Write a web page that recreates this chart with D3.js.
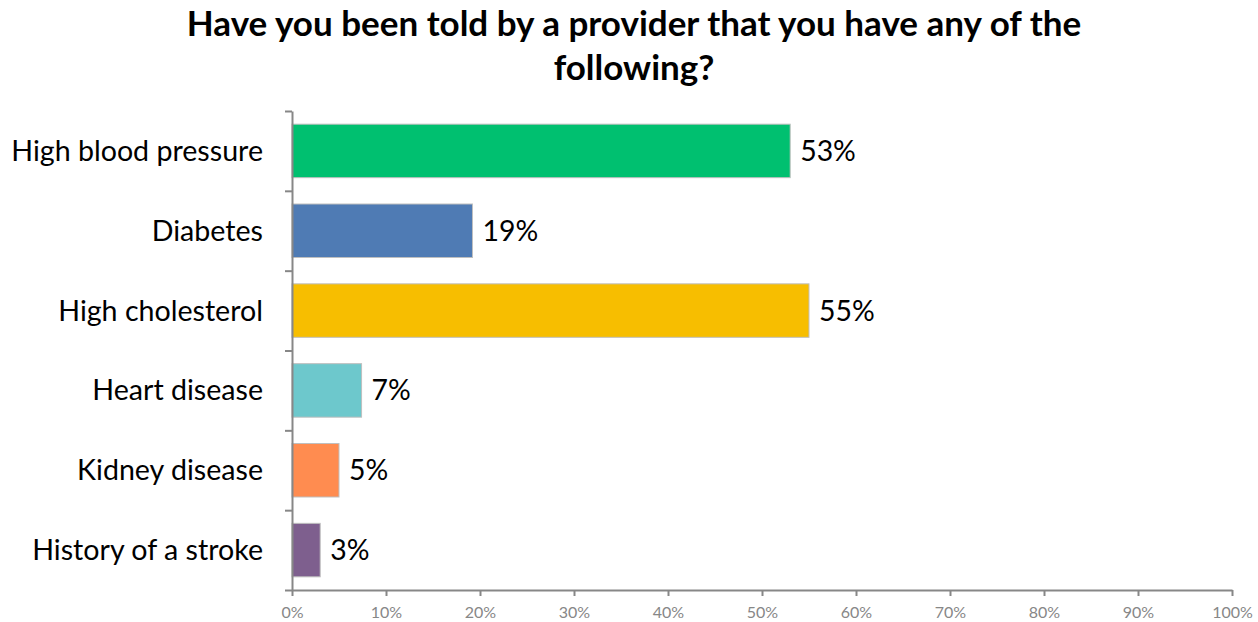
<!DOCTYPE html>
<html><head><meta charset="utf-8">
<script src="https://cdn.jsdelivr.net/npm/d3@7"></script>
<style>body{margin:0;background:#fff}svg{display:block}</style>
</head><body>
<script>
const categories = ["High blood pressure","Diabetes","High cholesterol","Heart disease","Kidney disease","History of a stroke"];
const values = [0.53, 0.192, 0.55, 0.074, 0.05, 0.03];
const valueLabels = ["53%","19%","55%","7%","5%","3%"];
const colors = ["#00C070","#4F7BB4","#F7BE00","#6DC8CC","#FF8C50","#7E5F8E"];
const xTicks = [0,0.1,0.2,0.3,0.4,0.5,0.6,0.7,0.8,0.9,1.0];
const titleLines = ["Have you been told by a provider that you have any of the","following?"];

const W=1258,H=622;
const FONT="Lato, 'Open Sans', sans-serif";
const svg=d3.select("body").append("svg").attr("width",W).attr("height",H);
const x=d3.scaleLinear().domain([0,1]).range([292,1232]);
const y=d3.scaleBand().domain(categories).range([111,590]).paddingInner(0.33).paddingOuter(0.165);

svg.append("g").selectAll("text").data(titleLines).join("text")
  .attr("x",634).attr("y",(d,i)=>36+i*44).attr("text-anchor","middle")
  .attr("font-family",FONT).attr("font-weight","bold").attr("font-size",35).attr("fill","#000").text(d=>d);

svg.append("g").selectAll("rect").data(categories).join("rect")
  .attr("x",x(0)).attr("y",d=>y(d)).attr("height",y.bandwidth())
  .attr("width",(d,i)=>x(values[i])-x(0)).attr("fill",(d,i)=>colors[i])
  .attr("stroke","#bfbfbf").attr("stroke-width",1);

const xa=svg.append("g").attr("transform","translate(0,590)")
  .call(d3.axisBottom(x).tickValues(xTicks).tickFormat(d3.format(".0%")).tickSize(6).tickSizeOuter(0));
xa.select(".domain").attr("stroke","#878787").attr("stroke-width",2);
xa.selectAll(".tick line").attr("stroke","#878787").attr("stroke-width",2);
xa.selectAll(".tick text").attr("font-family",FONT).attr("font-size",16).attr("fill","#878787").attr("y",28).attr("dy",0);

const yb=d3.scaleLinear().domain([0,6]).range([111,590]);
const ya=svg.append("g").attr("transform","translate(292,0)")
  .call(d3.axisLeft(yb).tickValues(d3.range(0,7)).tickFormat("").tickSize(7).tickSizeOuter(0));
ya.select(".domain").attr("stroke","#878787").attr("stroke-width",2);
ya.selectAll(".tick line").attr("stroke","#878787").attr("stroke-width",2);

svg.append("g").selectAll("text").data(categories).join("text")
  .attr("x",263).attr("y",d=>y(d)+y.bandwidth()/2).attr("dy","0.35em").attr("text-anchor","end")
  .attr("font-family",FONT).attr("font-size",28.6).attr("fill","#000").text(d=>d);

svg.append("g").selectAll("text").data(categories).join("text")
  .attr("x",(d,i)=>x(values[i])+10).attr("y",d=>y(d)+y.bandwidth()/2).attr("dy","0.35em")
  .attr("font-family",FONT).attr("font-size",28.4).attr("fill","#000").text((d,i)=>valueLabels[i]);
</script>
</body></html>
